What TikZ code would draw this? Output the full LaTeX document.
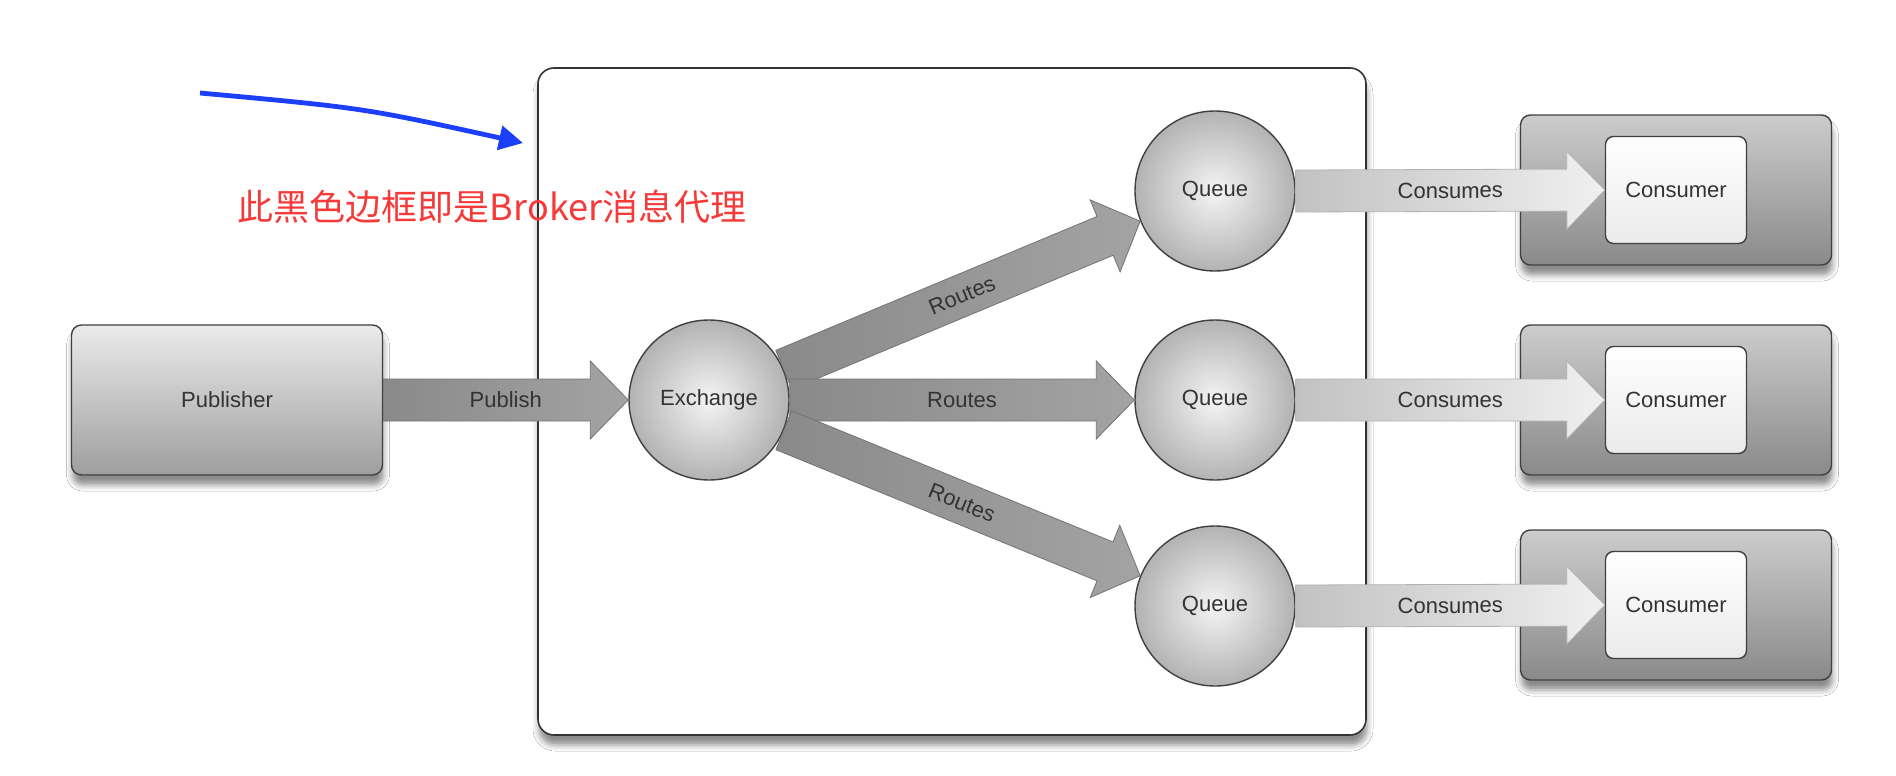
\documentclass[tikz,border=0pt]{standalone}
\usepackage{fontspec}
\setmainfont{Liberation Sans}
\newfontfamily\cjkfont{Noto Sans CJK SC}
\usetikzlibrary{calc,arrows.meta,shadows.blur}

\definecolor{notered}{RGB}{246,58,58}
\definecolor{noteblue}{RGB}{28,64,250}

\tikzset{
  lbl/.style={font=\fontsize{11}{13}\selectfont, text=black!80},
  softshadow/.style={blur shadow={shadow xshift=0.5pt, shadow yshift=-5pt,
    shadow blur radius=3pt, shadow opacity=45}},
  boxnode/.style={lbl, draw=black!75, line width=0.7pt, rounded corners=5pt,
    minimum width=155.5pt, minimum height=75pt, inner sep=0pt},
  pubbox/.style={boxnode, top color=black!8, bottom color=black!38, softshadow},
  outerbox/.style={boxnode, top color=black!20, bottom color=black!46, softshadow},
  innerbox/.style={lbl, draw=black!75, line width=0.7pt, rounded corners=4pt,
    minimum width=70.5pt, minimum height=53.5pt, inner sep=0pt,
    top color=white, bottom color=black!8},
  ball/.style={lbl, circle, minimum size=80pt, inner sep=0pt, draw=black!75,
    line width=0.7pt, inner color=black!4, outer color=black!30},
  broker/.style={draw=black!80, line width=0.8pt, fill=white, rounded corners=8pt,
    minimum width=414pt, minimum height=333.5pt, inner sep=0pt, softshadow},
  routearrow/.style={draw=black!55, line width=0.4pt, left color=black!46, right color=black!36},
  consumearrow/.style={draw=black!30, line width=0.4pt, left color=black!24, right color=black!6},
  hintarrow/.style={draw=noteblue, line width=2.4pt, -{Triangle[length=12pt,width=12pt]}},
}

% fat arrow from #2 to #3, label #4
\newcommand\fatarrow[4][]{%
  \coordinate (fa-s) at (#2);
  \coordinate (fa-t) at (#3);
  \coordinate (fa-h) at ($(fa-t)!19pt!(fa-s)$);
  \draw[#1] ($(fa-s)!10.5pt!90:(fa-t)$) -- ($(fa-h)!10.5pt!90:(fa-t)$)
    -- ($(fa-h)!19.5pt!90:(fa-t)$) -- (fa-t) -- ($(fa-h)!19.5pt!-90:(fa-t)$)
    -- ($(fa-h)!10.5pt!-90:(fa-t)$) -- ($(fa-s)!10.5pt!-90:(fa-t)$) -- cycle;
  \path (fa-s) -- (fa-t) node[midway, sloped, lbl] {#4};
}

\begin{document}
\begin{tikzpicture}[x=0.5pt,y=-0.5pt]
  \useasboundingbox[fill=white] (0,0) rectangle (1896,776);

  \node[broker] (broker) at (952,401.5) {};
  \node[pubbox] (pub) at (227,400) {Publisher};
  \node[ball] (ex) at (709,400) {Exchange};
  \node[ball] (q1) at (1215,191) {Queue};
  \node[ball] (q2) at (1215,400) {Queue};
  \node[ball] (q3) at (1215,606) {Queue};
  \node[outerbox] (c1) at (1676,190) {};
  \node[outerbox] (c2) at (1676,400) {};
  \node[outerbox] (c3) at (1676,605) {};

  \begin{scope}
    \fatarrow[routearrow]{pub.east}{ex.west}{Publish}
    \fatarrow[routearrow]{ex.22}{q1.202}{Routes}
    \fatarrow[routearrow]{ex.east}{q2.west}{Routes}
    \fatarrow[routearrow]{ex.-22}{q3.158}{Routes}
  \end{scope}

  \node[innerbox] (cin1) at (c1) {Consumer};
  \node[innerbox] (cin2) at (c2) {Consumer};
  \node[innerbox] (cin3) at (c3) {Consumer};

  \begin{scope}
    \fatarrow[consumearrow]{q1.east}{cin1.west}{Consumes}
    \fatarrow[consumearrow]{q2.east}{cin2.west}{Consumes}
    \fatarrow[consumearrow]{q3.east}{cin3.west}{Consumes}
  \end{scope}

  % note on the broker frame
  \node[font=\cjkfont\fontsize{18}{21}\selectfont, text=notered] (note) at (492,207) {此黑色边框即是Broker消息代理};
  \coordinate (hint) at (200,93);
  \coordinate (hinttip) at (523,143);
  \draw[hintarrow] (hint) .. controls (364,108) .. (hinttip);
\end{tikzpicture}
\end{document}
